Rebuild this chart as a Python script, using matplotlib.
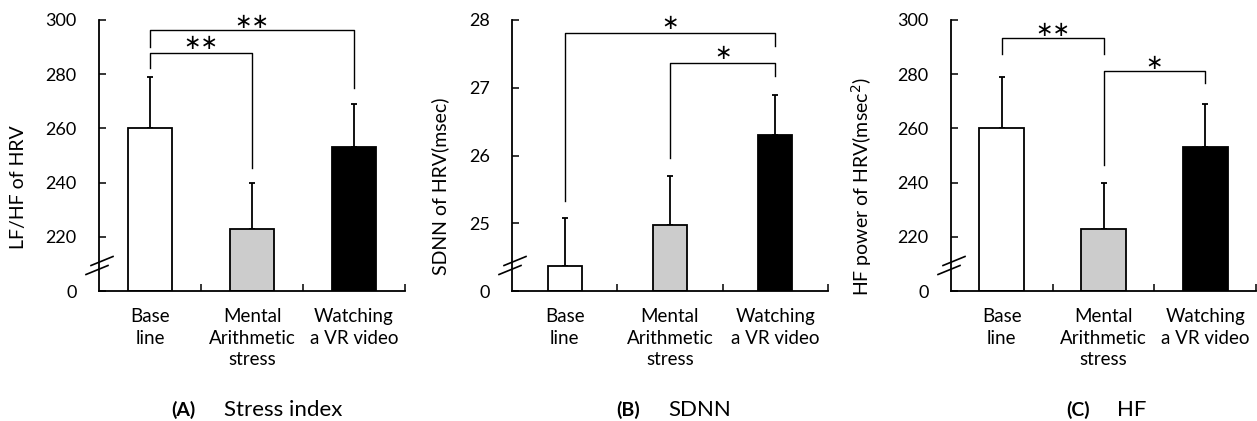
import matplotlib
matplotlib.use("Agg")
import matplotlib.pyplot as plt

plt.rcParams['font.family'] = ['Lato', 'DejaVu Sans']

categories = ["Base\nline", "Mental\nArithmetic\nstress", "Watching\na VR video"]
bar_colors = ["white", "#cccccc", "black"]

# Panel A: Stress index (LF/HF)
a_means = [260, 223, 253]
a_err = [19, 17, 16]
a_ticks = [200, 220, 240, 260, 280, 300]
a_ticklabels = ["0", "220", "240", "260", "280", "300"]

# Panel B: SDNN
b_means = [24.37, 24.97, 26.30]
b_err = [0.71, 0.73, 0.60]
b_ticks = [24, 25, 26, 27, 28]
b_ticklabels = ["0", "25", "26", "27", "28"]

# Panel C: HF
c_means = [260, 223, 253]
c_err = [19, 17, 16]
c_ticks = [200, 220, 240, 260, 280, 300]
c_ticklabels = ["0", "220", "240", "260", "280", "300"]

# brackets: (i, j, y_top, y_left_end, y_right_end, label, label_y)
a_brackets = [(0, 1, 287.7, 282.2, 245.3, "∗∗", 291.4),
              (0, 2, 296.3, 290.2, 274.8, "∗∗", 299.4)]
b_brackets = [(0, 2, 27.81, 25.33, 27.61, "∗", 27.95),
              (1, 2, 27.36, 25.96, 27.17, "∗", 27.51)]
c_brackets = [(0, 1, 293.2, 287.4, 287.4, "∗∗", 296.3),
              (1, 2, 281.0, 246.4, 276.9, "∗", 284.0)]

W, H = 1257, 421
fig = plt.figure(figsize=(W / 100, H / 100), dpi=100)

panels = [
    dict(left=99, right=405, means=a_means, err=a_err, ticks=a_ticks, tl=a_ticklabels,
         ylabel="LF/HF of HRV", lx=27, bw=0.43, brackets=a_brackets,
         tag="(A)", title="Stress index", tagx=183, titlex=224),
    dict(left=512, right=828, means=b_means, err=b_err, ticks=b_ticks, tl=b_ticklabels,
         ylabel="SDNN of HRV(msec)", lx=449, bw=0.32, brackets=b_brackets,
         tag="(B)", title="SDNN", tagx=628, titlex=668),
    dict(left=951, right=1256, means=c_means, err=c_err, ticks=c_ticks, tl=c_ticklabels,
         ylabel="HF power of HRV(msec$^2$)", lx=874, bw=0.44, brackets=c_brackets,
         tag="(C)", title="HF", tagx=1078, titlex=1117),
]

top_px, bot_px = 20, 291
for p in panels:
    l = p["left"] / W
    w = (p["right"] - p["left"]) / W
    b = 1 - bot_px / H
    h = (bot_px - top_px) / H
    ax = fig.add_axes([l, b, w, h])
    ymin, ymax = p["ticks"][0], p["ticks"][-1]
    ax.set_xlim(0, 3)
    ax.set_ylim(ymin, ymax)
    xs = [0.5, 1.5, 2.5]
    heights = [m - ymin for m in p["means"]]
    ax.bar(xs, heights, bottom=ymin, width=p["bw"], color=bar_colors,
           edgecolor="black", linewidth=1.3, zorder=2)
    ax.errorbar(xs, p["means"], yerr=[[0, 0, 0], p["err"]], fmt="none",
                ecolor="black", elinewidth=1.3, capsize=2.2, capthick=1.3, zorder=1)
    ax.set_yticks(p["ticks"])
    ax.set_yticklabels(p["tl"])
    ax.set_xticks([1, 2, 3])
    ax.set_xticklabels([])
    ax.tick_params(axis="y", direction="in", length=5, width=1.1, pad=16, labelsize=13)
    ax.tick_params(axis="x", direction="in", length=5, width=1.1)
    for s in ["top", "right"]:
        ax.spines[s].set_visible(False)
    for s in ["left", "bottom"]:
        ax.spines[s].set_linewidth(1.3)
    for x, lab in zip(xs, categories):
        ax.text(x, -0.062, lab, transform=ax.get_xaxis_transform(), ha="center", va="top",
                fontsize=13.5, linespacing=1.34)
    ax.set_ylabel(p["ylabel"], fontsize=14)
    ax.yaxis.set_label_coords((p["lx"] - p["left"]) / (p["right"] - p["left"]), 0.385)

    # brackets
    for (i, j, yt, yl, yr, lab, ly) in p["brackets"]:
        ax.plot([xs[i], xs[i], xs[j], xs[j]], [yl, yt, yt, yr], color="black",
                lw=1.0, clip_on=False, zorder=3)
        ax.text((xs[i] + xs[j]) / 2, ly, lab, ha="center", va="center", fontsize=15,
                family="DejaVu Sans", clip_on=False)

    # axis break marks
    Wpx = p["right"] - p["left"]
    Hpx = bot_px - top_px
    yc = (bot_px - 265) / Hpx
    for (cx, cy) in [(3, 4), (-2, -5)]:
        x0 = (cx - 11) / Wpx
        x1 = (cx + 11) / Wpx
        y0 = yc + (cy - 4.5) / Hpx
        y1 = yc + (cy + 4.5) / Hpx
        ax.plot([x0, x1], [y0, y1], transform=ax.transAxes, color="black", lw=1.2,
                clip_on=False, zorder=4)

    fig.text(p["tagx"] / W, 1 - 410 / H, p["tag"], ha="center", va="center",
             fontsize=14, fontweight="bold")
    fig.text(p["titlex"] / W, 1 - 410 / H, p["title"], ha="left", va="center",
             fontsize=16)

fig.savefig("out.png", dpi=100)
